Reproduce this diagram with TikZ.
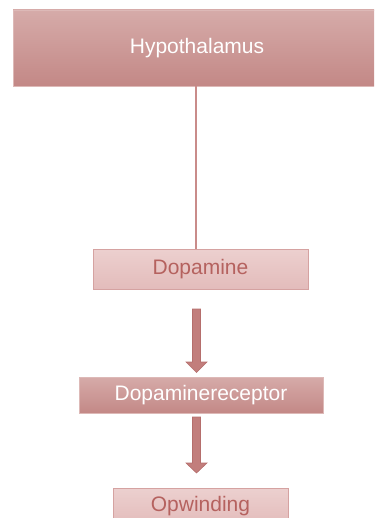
\documentclass[tikz,border=0pt]{standalone}
\usepackage{fontspec}
\setmainfont{Liberation Sans}
\usetikzlibrary{calc}
\definecolor{darktop}{HTML}{D6ABA9}
\definecolor{darkbot}{HTML}{C38886}
\definecolor{darkedge}{HTML}{DDB9B7}
\definecolor{lighttop}{HTML}{ECD0CF}
\definecolor{lightbot}{HTML}{E3BCBB}
\definecolor{lightedge}{HTML}{D5A2A1}
\definecolor{lighttext}{HTML}{B5625F}
\definecolor{arrowfill}{HTML}{C27E7C}
\definecolor{arrowedge}{HTML}{B56E6C}
\definecolor{linkcol}{HTML}{C98C8A}
\tikzset{
  darkbox/.style={draw=darkedge, line width=0.6pt, top color=darktop, bottom color=darkbot,
    text=white, inner sep=0pt, outer sep=0pt, font=\fontsize{21}{25}\selectfont},
  lightbox/.style={draw=lightedge, line width=0.8pt, top color=lighttop, bottom color=lightbot,
    text=lighttext, inner sep=0pt, outer sep=0pt, font=\fontsize{21}{25}\selectfont},
  link/.style={draw=linkcol, line width=1.6pt},
  fatarrow/.style={fill=arrowfill, draw=arrowedge, line width=0.6pt, line join=miter}
}
\begin{document}
\begin{tikzpicture}[x=1pt,y=-1pt]
\useasboundingbox (0,0) rectangle (374,518);
\clip (0,0) rectangle (374,518);
\node[darkbox, minimum width=368pt, minimum height=76pt] (hyp) at (197,48) {Hypothalamus};
\node[lightbox, minimum width=215pt, minimum height=40pt] (dop) at (200.5,269) {Dopamine};
\node[darkbox, minimum width=244pt, minimum height=36pt] (rec) at (201,395) {Dopaminereceptor};
\node[lightbox, minimum width=175pt, minimum height=36pt] (opw) at (200.5,506) {Opwinding};
\coordinate (axis) at (196.5,0);
\draw[link] ($(hyp.south)+(-0.8,0)$) -- ($(hyp.south |- dop.north)+(-0.8,0)$);
\filldraw[fatarrow] ($(axis |- dop.south)+(-4,20)$) -- ($(axis |- rec.north)+(-4,-15)$)
  -- ($(axis |- rec.north)+(-10.5,-15)$) -- ($(axis |- rec.north)+(0,-4.5)$)
  -- ($(axis |- rec.north)+(10.5,-15)$) -- ($(axis |- rec.north)+(4,-15)$)
  -- ($(axis |- dop.south)+(4,20)$) -- cycle;
\filldraw[fatarrow] ($(axis |- rec.south)+(-4,4)$) -- ($(axis |- opw.north)+(-4,-25)$)
  -- ($(axis |- opw.north)+(-10.5,-25)$) -- ($(axis |- opw.north)+(0,-15)$)
  -- ($(axis |- opw.north)+(10.5,-25)$) -- ($(axis |- opw.north)+(4,-25)$)
  -- ($(axis |- rec.south)+(4,4)$) -- cycle;
\end{tikzpicture}
\end{document}
